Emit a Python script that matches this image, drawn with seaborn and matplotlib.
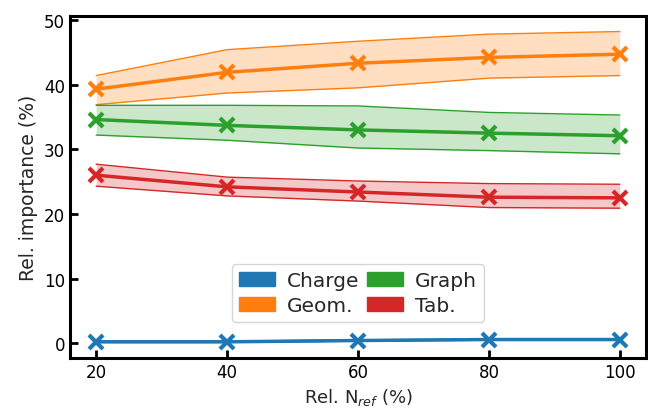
import matplotlib
matplotlib.use("Agg")
import matplotlib.pyplot as plt
import seaborn as sns
import pandas as pd
from matplotlib.patches import Patch

x_vals = [20, 40, 60, 80, 100]
names = ["Charge", "Geom.", "Graph", "Tab."]

charge_mean = [0.25, 0.25, 0.45, 0.6, 0.6]
charge_low = [0.15, 0.15, 0.35, 0.5, 0.5]
charge_high = [0.35, 0.35, 0.55, 0.7, 0.7]

geom_mean = [39.3, 41.9, 43.3, 44.2, 44.7]
geom_low = [36.9, 38.7, 39.5, 41.0, 41.4]
geom_high = [41.4, 45.4, 46.7, 47.8, 48.2]

graph_mean = [34.6, 33.7, 33.0, 32.5, 32.1]
graph_low = [32.2, 31.4, 30.2, 29.8, 29.3]
graph_high = [36.8, 36.8, 36.7, 35.7, 35.3]

tab_mean = [26.0, 24.2, 23.4, 22.6, 22.5]
tab_low = [24.3, 22.8, 22.0, 21.0, 20.9]
tab_high = [27.7, 25.7, 25.1, 24.7, 24.6]

sns.set_style("ticks")
plt.rcParams["font.family"] = ["DejaVu Sans"]

colors = sns.color_palette("tab10", 4)
series = [
    (charge_mean, charge_low, charge_high),
    (geom_mean, geom_low, geom_high),
    (graph_mean, graph_low, graph_high),
    (tab_mean, tab_low, tab_high),
]

fig = plt.figure(figsize=(6.48, 4.14), dpi=100)
ax = fig.add_axes([70 / 648, 1 - 359 / 414, (646 - 70) / 648, (359 - 17) / 414])

for name, (m, lo, hi), c in zip(names, series, colors):
    df = pd.DataFrame({"x": x_vals, "y": m})
    sns.lineplot(data=df, x="x", y="y", ax=ax, color=c, lw=2.5,
                 marker="x", markersize=10, mew=3, mec=c, mfc=c, zorder=3)
    ax.fill_between(x_vals, lo, hi, color=c, alpha=0.25, lw=0, zorder=1)
    ax.plot(x_vals, lo, color=c, lw=1, zorder=2)
    ax.plot(x_vals, hi, color=c, lw=1, zorder=2)

ax.set_xticks(x_vals)
ax.set_yticks([0, 10, 20, 30, 40, 50])
ax.tick_params(direction="in", length=6, width=2, labelsize=12, colors="black")
for s in ax.spines.values():
    s.set_linewidth(2.2)
    s.set_color("black")
    s.set_visible(True)

ax.set_xlabel(r"Rel. N$_{ref}$ (%)", fontsize=13, labelpad=4)
ax.set_ylabel("Rel. importance (%)", fontsize=13.5)

handles = [Patch(color=c, label=n) for n, c in zip(names, colors)]
ax.legend(handles=handles, loc="lower center", bbox_to_anchor=(0.5, 0.105),
          ncol=2, fontsize=14.5, columnspacing=0.35, handlelength=1.8,
          handletextpad=0.6, borderaxespad=0, labelspacing=0.3, borderpad=0.35)

fig.savefig("out.png", dpi=100)
